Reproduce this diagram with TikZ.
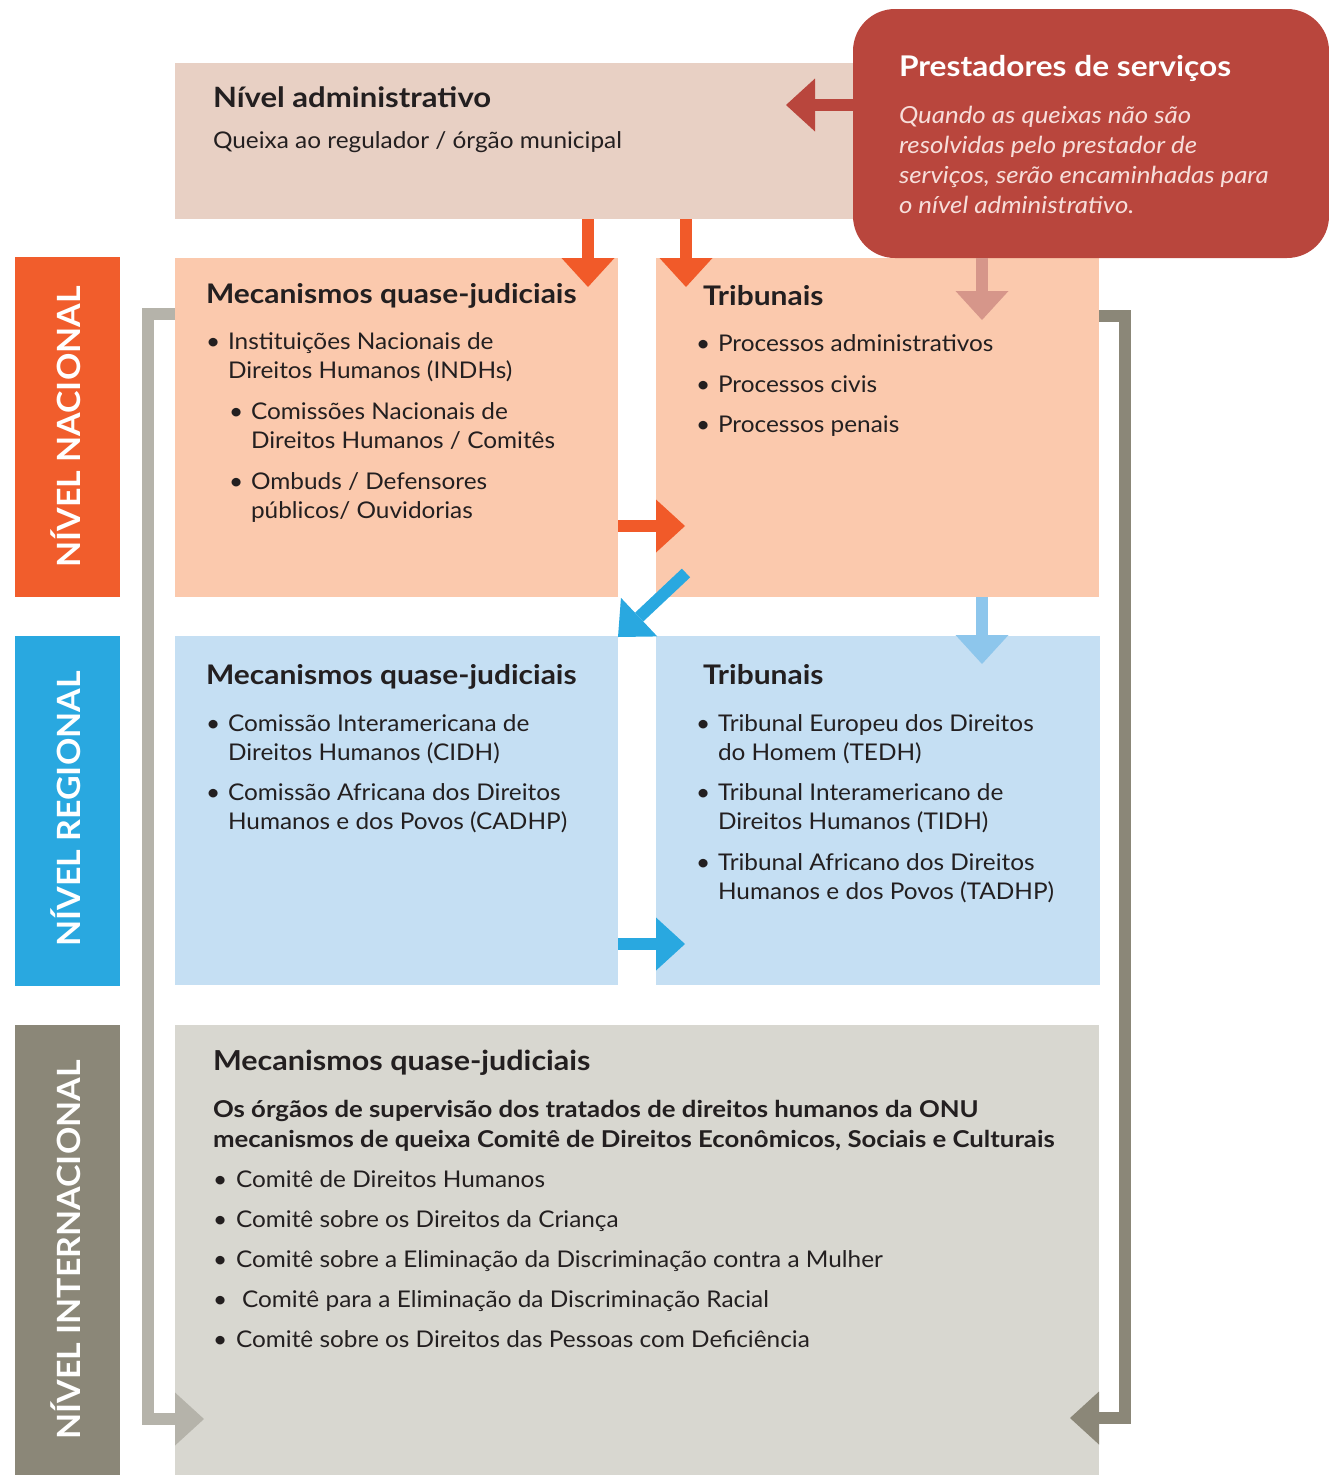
\documentclass[tikz,border=0pt]{standalone}
\usepackage{fontspec}
\setmainfont{Lato}[FakeStretch=1.06,
  BoldFeatures={FakeStretch=1.11},
  ItalicFeatures={FakeStretch=1.1}]
\newfontfamily\lvlfont{Lato}[FakeStretch=1.06]
\usetikzlibrary{arrows.meta}
\definecolor{ink}{HTML}{231F20}
\definecolor{admc}{HTML}{E8D0C4}
\definecolor{natc}{HTML}{FBC9AD}
\definecolor{natbar}{HTML}{F15D2C}
\definecolor{orarr}{HTML}{F15A29}
\definecolor{redc}{HTML}{B9463D}
\definecolor{redtxt}{HTML}{F7DEDA}
\definecolor{pinkarr}{HTML}{D6968A}
\definecolor{regc}{HTML}{C5DFF3}
\definecolor{regbar}{HTML}{29A8E0}
\definecolor{ltblue}{HTML}{8DC6EC}
\definecolor{intc}{HTML}{D8D7D0}
\definecolor{intbar}{HTML}{8B8778}
\definecolor{grayl}{HTML}{B5B3AA}
\tikzset{
  panel/.style={rectangle, inner sep=0pt, outer sep=0pt, draw=none, anchor=north west},
  txt/.style={anchor=base west, inner sep=0pt, outer sep=0pt, text=ink, align=left,
    font=\fontsize{23}{29.5}\selectfont},
  ttl/.style={txt, font=\fontsize{27}{32}\selectfont\bfseries},
  bul/.style={txt},
  lvl/.style={anchor=base, rotate=90, inner sep=0pt, text=white,
    font=\fontsize{32}{36}\lvlfont\bfseries},
  blk/.style={line width=12pt, line join=miter,
    -{Triangle[length=29pt,width=53pt,line width=0pt]}}
}
\begin{document}
\begin{tikzpicture}[x=1pt,y=-1pt]
\useasboundingbox (0,0) rectangle (1329,1475);
% panels
\node[panel, fill=admc, minimum width=690pt, minimum height=156pt] (adm) at (175,63) {};
\node[panel, fill=natc, minimum width=443pt, minimum height=339pt] (natl) at (175,258) {};
\node[panel, fill=natc, minimum width=443pt, minimum height=339pt] (natr) at (656,258) {};
\node[panel, fill=regc, minimum width=443pt, minimum height=349pt] (regl) at (175,636) {};
\node[panel, fill=regc, minimum width=444pt, minimum height=349pt] (regr) at (656,636) {};
\node[panel, fill=intc, minimum width=924pt, minimum height=450pt] (intl) at (175,1025) {};
\node[panel, fill=natbar, minimum width=105pt, minimum height=340pt] (barn) at (15,257) {};
\node[panel, fill=regbar, minimum width=105pt, minimum height=350pt] (barr) at (15,636) {};
\node[panel, fill=intbar, minimum width=105pt, minimum height=450pt] (bari) at (15,1025) {};
\node[panel, fill=redc, rounded corners=42pt, minimum width=476pt, minimum height=249pt] (red) at (853,9) {};
% level labels
\node[lvl] (ln) at (80,427) {NÍVEL NACIONAL};
\node[lvl] (lr) at (80,809) {NÍVEL REGIONAL};
\node[lvl] (li) at (80,1250) {NÍVEL INTERNACIONAL};
% arrow end coordinates
\coordinate (a1) at (786,105);
\coordinate (t1) at (588,287);
\coordinate (t2) at (686,287);
\coordinate (t3) at (982,320);
\coordinate (t4) at (685,526);
\coordinate (s5) at (686,573);
\coordinate (t5) at (618,637);
\coordinate (t6) at (982,664);
\coordinate (t7) at (685,944);
\coordinate (b1) at (148,314);
\coordinate (t8) at (204,1419);
\coordinate (b2) at (1125,316);
\coordinate (t9) at (1070,1418);
% connectors
\draw[blk, draw=redc] (red.west |- a1) -- (a1);
\draw[blk, draw=orarr] (adm.south -| t1) -- (t1);
\draw[blk, draw=orarr] (adm.south -| t2) -- (t2);
\draw[blk, draw=pinkarr] (red.south -| t3) -- (t3);
\draw[blk, draw=orarr] (natl.east |- t4) -- (t4);
\draw[blk, draw=regbar] (s5) -- (t5);
\draw[blk, draw=ltblue] (natr.south -| t6) -- (t6);
\draw[blk, draw=regbar] (regl.east |- t7) -- (t7);
\draw[blk, draw=grayl] (natl.west |- b1) -- (b1) -- (b1 |- t8) -- (t8);
\draw[blk, draw=intbar] (natr.east |- b2) -- (b2) -- (b2 |- t9) -- (t9);
% admin texts
\node[txt, font=\fontsize{28}{32}\selectfont\bfseries] (admt) at (213,107) {Nível administrativo};
\node[txt] (adms) at (213,148) {Queixa ao regulador / órgão municipal};
% red box texts
\node[txt, text=white, font=\fontsize{28.5}{32}\selectfont\bfseries] (redt) at (899,76) {Prestadores de serviços};
\node[txt, text=redtxt, font=\fontsize{23.5}{30}\selectfont\itshape] (redi) at (899,213)
  {Quando as queixas não são\\resolvidas pelo prestador de\\serviços, serão encaminhadas para\\o nível administrativo.};
% national left
\node[ttl] (nlt) at (206,303) {Mecanismos quase-judiciais};
\node[bul] (nlb1) at (206,349) {•};
\node[txt] (nl1) at (228,378.5) {Instituições Nacionais de\\Direitos Humanos (INDHs)};
\node[bul] (nlb2) at (229,419) {•};
\node[txt] (nl2) at (251,448.5) {Comissões Nacionais de\\Direitos Humanos / Comitês};
\node[bul] (nlb3) at (229,489) {•};
\node[txt] (nl3) at (251,518.5) {Ombuds / Defensores\\públicos/ Ouvidorias};
% national right
\node[ttl] (nrt) at (703,305) {Tribunais};
\node[bul] (nrb1) at (696,351) {•};
\node[txt] (nr1) at (718,351) {Processos administrativos};
\node[bul] (nrb2) at (696,392) {•};
\node[txt] (nr2) at (718,392) {Processos civis};
\node[bul] (nrb3) at (696,432) {•};
\node[txt] (nr3) at (718,432) {Processos penais};
% regional left
\node[ttl] (rlt) at (206,684) {Mecanismos quase-judiciais};
\node[bul] (rlb1) at (206,731) {•};
\node[txt] (rl1) at (228,760.5) {Comissão Interamericana de\\Direitos Humanos (CIDH)};
\node[bul] (rlb2) at (206,800) {•};
\node[txt] (rl2) at (228,829.5) {Comissão Africana dos Direitos\\Humanos e dos Povos (CADHP)};
% regional right
\node[ttl] (rrt) at (703,684) {Tribunais};
\node[bul] (rrb1) at (696,731) {•};
\node[txt] (rr1) at (718,760.5) {Tribunal Europeu dos Direitos\\do Homem (TEDH)};
\node[bul] (rrb2) at (696,800) {•};
\node[txt] (rr2) at (718,829.5) {Tribunal Interamericano de\\Direitos Humanos (TIDH)};
\node[bul] (rrb3) at (696,870) {•};
\node[txt] (rr3) at (718,899.5) {Tribunal Africano dos Direitos\\Humanos e dos Povos (TADHP)};
% international
\node[ttl, font=\fontsize{27.5}{32}\selectfont\bfseries] (itt) at (213,1070) {Mecanismos quase-judiciais};
\node[txt, font=\fontsize{23.2}{30}\selectfont\bfseries] (itp) at (213,1147)
  {Os órgãos de supervisão dos tratados de direitos humanos da ONU\\mecanismos de queixa Comitê de Direitos Econômicos, Sociais e Culturais};
\node[bul] (ib1) at (213,1187) {•};
\node[txt] (i1) at (236,1187) {Comitê de Direitos Humanos};
\node[bul] (ib2) at (213,1227) {•};
\node[txt] (i2) at (236,1227) {Comitê sobre os Direitos da Criança};
\node[bul] (ib3) at (213,1267) {•};
\node[txt] (i3) at (236,1267) {Comitê sobre a Eliminação da Discriminação contra a Mulher};
\node[bul] (ib4) at (213,1307) {•};
\node[txt] (i4) at (242,1307) {Comitê para a Eliminação da Discriminação Racial};
\node[bul] (ib5) at (213,1347) {•};
\node[txt] (i5) at (236,1347) {Comitê sobre os Direitos das Pessoas com Deficiência};
\end{tikzpicture}
\end{document}
